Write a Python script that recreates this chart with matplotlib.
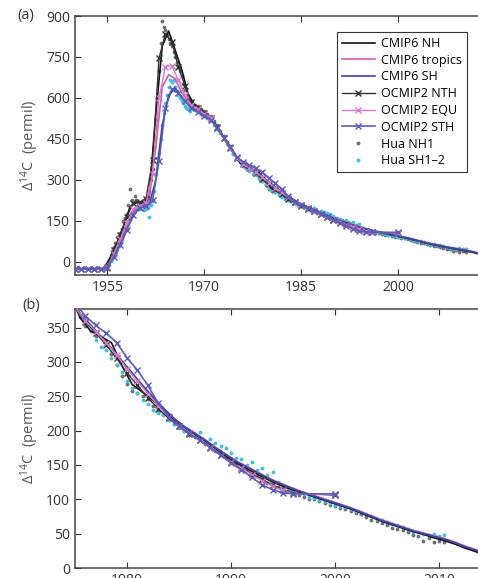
import matplotlib
matplotlib.use('Agg')
from matplotlib import pyplot as plt

plt.rcParams['font.family'] = ['Open Sans', 'DejaVu Sans']

# CMIP6 annual means (mid-year)
cmip_t = [1950.5, 1951.5, 1952.5, 1953.5, 1954.5, 1955.5, 1956.5, 1957.5, 1958.5, 1959.5,
          1960.5, 1961.5, 1962.5, 1963.5, 1964.5, 1965.5, 1966.5, 1967.5, 1968.5, 1969.5,
          1970.5, 1971.5, 1972.5, 1973.5, 1974.5, 1975.5, 1976.5, 1977.5, 1978.5, 1979.5,
          1980.5, 1981.5, 1982.5, 1983.5, 1984.5, 1985.5, 1986.5, 1987.5, 1988.5, 1989.5,
          1990.5, 1991.5, 1992.5, 1993.5, 1994.5, 1995.5, 1996.5, 1997.5, 1998.5, 1999.5,
          2000.5, 2001.5, 2002.5, 2003.5, 2004.5, 2005.5, 2006.5, 2007.5, 2008.5, 2009.5,
          2010.5, 2011.5, 2012.5, 2013.5, 2014.5]
cmip_nh = [-25, -25, -25, -25, -25, 18, 70, 130, 200, 218,
           220, 245, 540, 790, 845, 775, 705, 615, 575, 557,
           538, 515, 475, 440, 400, 364, 345, 337, 328, 295,
           267, 256, 244, 230, 216, 205, 195, 185, 174, 163,
           153, 145, 137, 129, 122, 116, 111, 106, 101, 96,
           91, 86, 80, 74, 68, 63, 58, 53, 49, 44,
           40, 35, 29, 24, 18]
cmip_trop = [-25, -25, -25, -25, -25, 5, 50, 105, 165, 200,
             207, 235, 420, 640, 685, 670, 620, 585, 565, 552,
             537, 512, 475, 440, 402, 368, 352, 337, 320, 300,
             282, 264, 248, 232, 218, 206, 197, 187, 176, 166,
             156, 148, 140, 132, 125, 119, 113, 108, 103, 98,
             93, 88, 82, 76, 70, 65, 60, 55, 51, 47,
             43, 38, 32, 27, 21]
cmip_sh = [-25, -25, -25, -25, -25, 0, 40, 90, 145, 188,
           200, 210, 300, 500, 610, 635, 605, 575, 558, 545,
           530, 508, 474, 440, 404, 370, 354, 337, 320, 302,
           284, 266, 249, 233, 218, 206, 196, 186, 175, 165,
           155, 147, 139, 131, 124, 118, 112, 107, 102, 97,
           92, 87, 81, 75, 69, 64, 59, 54, 50, 46,
           42, 37, 31, 26, 20]

# OCMIP2 annual values
ocmip_t = [1950, 1951, 1952, 1953, 1954, 1955, 1956, 1957, 1958, 1959,
           1960, 1961, 1962, 1963, 1964, 1965, 1966, 1967, 1968, 1969,
           1970, 1971, 1972, 1973, 1974, 1975, 1976, 1977, 1978, 1979,
           1980, 1981, 1982, 1983, 1984, 1985, 1986, 1987, 1988, 1989,
           1990, 1991, 1992, 1993, 1994, 1995, 1996, 2000]
ocmip_nth = [-25, -25, -25, -25, -25, -18, 42, 98, 165, 215,
             218, 232, 372, 745, 835, 805, 715, 645, 585, 562,
             545, 528, 493, 455, 418, 380, 358, 342, 325, 305,
             284, 266, 248, 232, 218, 206, 195, 186, 175, 165,
             155, 146, 137, 129, 121, 114, 109, 106]
ocmip_equ = [-25, -25, -25, -25, -25, -20, 30, 82, 142, 192,
             206, 215, 320, 600, 715, 718, 665, 610, 575, 558,
             542, 525, 490, 453, 417, 380, 360, 344, 328, 310,
             290, 272, 254, 236, 220, 207, 196, 186, 175, 164,
             154, 145, 136, 127, 119, 113, 108, 107]
ocmip_sth = [-25, -25, -25, -25, -25, -22, 18, 62, 118, 172,
             198, 205, 225, 370, 565, 632, 618, 588, 565, 550,
             535, 520, 490, 455, 420, 385, 367, 353, 342, 328,
             306, 288, 266, 240, 220, 207, 196, 186, 176, 164,
             153, 143, 132, 121, 114, 109, 108, 108]

# Hua et al. observations
hua_t = [1955.0, 1955.25, 1955.5, 1955.75, 1956.0, 1956.25, 1956.5, 1956.75,
         1957.0, 1957.25, 1957.5, 1957.75, 1958.0, 1958.25, 1958.5, 1958.75,
         1959.0, 1959.25, 1959.5, 1959.75, 1960.0, 1960.25, 1960.5, 1960.75,
         1961.0, 1961.25, 1961.5, 1961.75, 1962.0, 1962.25, 1962.5, 1962.75,
         1963.0, 1963.25, 1963.5, 1963.75, 1964.0, 1964.25, 1964.5, 1964.75,
         1965.0, 1965.25, 1965.5, 1965.75, 1966.0, 1966.25, 1966.5, 1966.75,
         1967.0, 1967.25, 1967.5, 1967.75,
         1968.0, 1968.5, 1969.0, 1969.5, 1970.0, 1970.5, 1971.0, 1971.5,
         1972.0, 1972.5, 1973.0, 1973.5, 1974.0, 1974.5, 1975.0, 1975.5,
         1976.0, 1976.5, 1977.0, 1977.5, 1978.0, 1978.5, 1979.0, 1979.5,
         1980.0, 1980.5, 1981.0, 1981.5, 1982.0, 1982.5, 1983.0, 1983.5,
         1984.0, 1984.5, 1985.0, 1985.5, 1986.0, 1986.5, 1987.0, 1987.5,
         1988.0, 1988.5, 1989.0, 1989.5, 1990.0, 1990.5, 1991.0, 1991.5,
         1992.0, 1992.5, 1993.0, 1993.5, 1994.0, 1994.5, 1995.0, 1995.5,
         1996.0, 1996.5, 1997.0, 1997.5, 1998.0, 1998.5, 1999.0, 1999.5,
         2000.0, 2000.5, 2001.0, 2001.5, 2002.0, 2002.5, 2003.0, 2003.5,
         2004.0, 2004.5, 2005.0, 2005.5, 2006.0, 2006.5, 2007.0, 2007.5,
         2008.0, 2008.5, 2009.0, 2009.5, 2010.0, 2010.5]
hua_nh1 = [-18, 5, 25, 40, 55, 70, 90, 95,
           105, 120, 150, 160, 175, 210, 265, 225,
           220, 240, 225, 215, 210, 220, 215, 212,
           220, 235, 260, 300, 340, 420, 520, 600,
           700, 800, 880, 860, 850, 830, 815, 800,
           790, 770, 750, 730, 715, 700, 680, 650,
           630, 610, 595, 585,
           590, 575, 570, 560, 552, 540, 535, 515,
           500, 480, 460, 440, 425, 400, 380, 368,
           352, 345, 338, 336, 330, 312, 295, 280,
           268, 258, 255, 250, 246, 236, 228, 224,
           216, 210, 204, 200, 194, 190, 188, 180,
           176, 170, 165, 160, 155, 150, 146, 142,
           137, 134, 128, 124, 122, 118, 116, 112,
           110, 106, 104, 101, 100, 97, 95, 92,
           90, 88, 86, 83, 80, 78, 74, 70,
           68, 66, 63, 58, 57, 55, 52, 48,
           47, 40, 44, 38, 40, 38]
hua_sh = [-25, -12, 2, 12, 22, 32, 45, 58,
          70, 82, 98, 112, 122, 138, 155, 168,
          178, 188, 195, 198, 195, 200, 205, 190,
          195, 200, 165, 210, 222, 260, 320, 380,
          400, 450, 500, 545, 580, 610, 640, 665,
          660, 665, 640, 625, 612, 600, 590, 580,
          572, 565, 558, 552,
          565, 555, 548, 540, 535, 525, 515, 500,
          485, 470, 450, 432, 412, 395, 378, 365,
          355, 345, 332, 322, 318, 305, 296, 285,
          272, 262, 255, 245, 238, 230, 225, 222,
          215, 210, 205, 200, 196, 192, 198, 185,
          188, 182, 178, 175, 168, 160, 158, 150,
          155, 142, 146, 135, 140, 125, 121, 117,
          113, 110, 108, 104, 102, 99, 97, 95,
          92, 90, 89, 86, 83, 81, 78, 75,
          72, 70, 67, 64, 62, 60, 57, 53,
          52, 50, 48, 50, 46, 48]

c_nh, c_trop, c_sh = '#111111', '#d45aa8', '#3a45a0'
c_nth, c_equ, c_sth = '#333333', '#d77cc6', '#5a5cb8'
c_hua_nh, c_hua_sh = '#707070', '#45c0dc'


def draw(ax):
    ax.plot(hua_t, hua_nh1, ls='none', marker='.', ms=3.5, color=c_hua_nh,
            label='Hua NH1', zorder=1)
    ax.plot(hua_t, hua_sh, ls='none', marker='.', ms=3.5, color=c_hua_sh,
            label='Hua SH1\u20132', zorder=1)
    ax.plot(cmip_t, cmip_nh, color=c_nh, lw=1.2, label='CMIP6 NH', zorder=3)
    ax.plot(cmip_t, cmip_trop, color=c_trop, lw=1.2, label='CMIP6 tropics', zorder=3)
    ax.plot(cmip_t, cmip_sh, color=c_sh, lw=1.2, label='CMIP6 SH', zorder=3)
    ax.plot(ocmip_t, ocmip_nth, color=c_nth, lw=1, marker='x', ms=4.5, mew=1,
            label='OCMIP2 NTH', zorder=4)
    ax.plot(ocmip_t, ocmip_equ, color=c_equ, lw=1, marker='x', ms=4.5, mew=1,
            label='OCMIP2 EQU', zorder=4)
    ax.plot(ocmip_t, ocmip_sth, color=c_sth, lw=1.2, marker='x', ms=4.5, mew=1,
            label='OCMIP2 STH', zorder=4)
    ax.tick_params(direction='in', top=True, right=True, length=4,
                   labelsize=10, colors='#333333', width=0.8)
    for s in ax.spines.values():
        s.set_color('#444444')
        s.set_linewidth(1.1)
    ax.set_ylabel(r'$\mathregular{\Delta^{14}C}$  (permil)', fontsize=10.5,
                  color='#555555')


fig = plt.figure(figsize=(4.78, 5.78), dpi=100)
ax1 = fig.add_axes([75 / 478, 303 / 578, 420 / 478, 259 / 578])
ax2 = fig.add_axes([75 / 478, 10 / 578, 416 / 478, 259 / 578])

draw(ax1)
ax1.set_xlim(1950, 2015)
ax1.set_ylim(-48, 900)
ax1.set_xticks([1955, 1970, 1985, 2000])
ax1.set_yticks([0, 150, 300, 450, 600, 750, 900])

draw(ax2)
ax2.set_xlim(1975, 2015)
ax2.set_ylim(0, 377)
ax2.set_xticks([1980, 1990, 2000, 2010])
ax2.set_yticks([0, 50, 100, 150, 200, 250, 300, 350])

h, l = ax1.get_legend_handles_labels()
order = [2, 3, 4, 5, 6, 7, 0, 1]
leg = ax1.legend([h[i] for i in order], [l[i] for i in order],
                 loc='upper left', bbox_to_anchor=(337 / 478, 1 - 32 / 578),
                 bbox_transform=fig.transFigure, borderaxespad=0, fontsize=9,
                 fancybox=False, framealpha=1, edgecolor='#333333',
                 handlelength=2.6, labelspacing=0.3, borderpad=0.4,
                 handletextpad=0.5)
leg.get_frame().set_linewidth(0.8)

fig.text(17 / 478, 1 - 15 / 578, '(a)', fontsize=10.5, color='#333333', va='center')
fig.text(22 / 478, 1 - 306 / 578, '(b)', fontsize=10.5, color='#333333', va='center')

fig.savefig('out.png', dpi=100)
